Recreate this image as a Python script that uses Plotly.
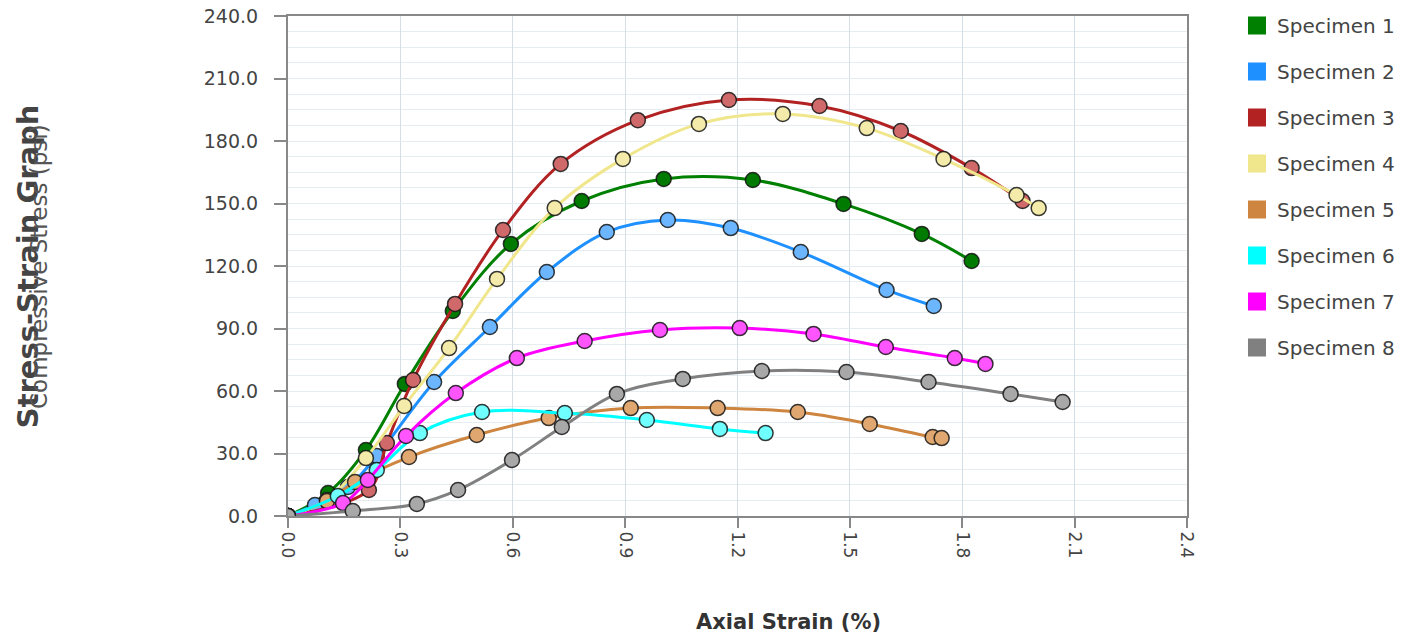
import plotly.graph_objects as go

names = ["Specimen 1", "Specimen 2", "Specimen 3", "Specimen 4",
         "Specimen 5", "Specimen 6", "Specimen 7", "Specimen 8"]

s1_x = [0, 0.107, 0.208, 0.312, 0.44, 0.595, 0.784, 1.003, 1.241, 1.483, 1.692, 1.825]
s1_y = [0, 11.0, 31.7, 63.4, 98.4, 130.6, 151.2, 161.8, 161.3, 149.8, 135.4, 122.4]

s2_x = [0, 0.072, 0.16, 0.237, 0.39, 0.539, 0.691, 0.851, 1.014, 1.182, 1.369, 1.598, 1.724]
s2_y = [0, 5.3, 13.9, 28.8, 64.3, 90.7, 117.1, 136.3, 142.1, 138.2, 126.7, 108.5, 100.8]

s3_x = [0, 0.216, 0.264, 0.334, 0.446, 0.574, 0.728, 0.934, 1.177, 1.419, 1.636, 1.825, 1.961]
s3_y = [0, 12.5, 35.0, 65.3, 101.8, 137.3, 169.0, 190.0, 199.7, 196.8, 184.8, 167.0, 151.2]

s4_x = [0, 0.104, 0.208, 0.31, 0.43, 0.558, 0.712, 0.894, 1.097, 1.321, 1.545, 1.75, 1.945, 2.004]
s4_y = [0, 7.7, 27.8, 52.8, 80.6, 113.8, 147.8, 171.4, 188.2, 193.0, 186.2, 171.4, 154.1, 147.8]

s5_x = [0, 0.104, 0.179, 0.323, 0.504, 0.696, 0.915, 1.147, 1.361, 1.553, 1.721, 1.745]
s5_y = [0, 7.2, 16.3, 28.3, 38.9, 47.0, 51.8, 51.8, 49.9, 44.2, 37.9, 37.4]

s6_x = [0, 0.133, 0.237, 0.352, 0.518, 0.739, 0.958, 1.153, 1.275]
s6_y = [0, 9.6, 22.1, 39.8, 49.9, 49.4, 46.1, 41.8, 39.8]

s7_x = [0, 0.147, 0.213, 0.315, 0.448, 0.611, 0.792, 0.993, 1.206, 1.403, 1.596, 1.78, 1.862]
s7_y = [0, 6.2, 17.3, 38.4, 59.0, 75.8, 84.0, 89.3, 90.2, 87.4, 81.1, 75.8, 73.0]

s8_x = [0, 0.173, 0.344, 0.454, 0.598, 0.731, 0.878, 1.054, 1.265, 1.491, 1.71, 1.929, 2.068]
s8_y = [0, 2.4, 5.8, 12.5, 26.9, 42.7, 58.6, 65.8, 69.6, 69.1, 64.3, 58.6, 54.7]

xs = [s1_x, s2_x, s3_x, s4_x, s5_x, s6_x, s7_x, s8_x]
ys = [s1_y, s2_y, s3_y, s4_y, s5_y, s6_y, s7_y, s8_y]

line_colors = ["#008000", "#1e90ff", "#b22222", "#f0e68c",
               "#cd853f", "#00ffff", "#ff00ff", "#808080"]
marker_fills = ["#007a00", "#6cb6ff", "#d06a6a", "#f4ebaa",
                "#e0a870", "#70ffff", "#ff55ff", "#a8a8a8"]

x_ticks = [0.0, 0.3, 0.6, 0.9, 1.2, 1.5, 1.8, 2.1, 2.4]
y_ticks = [0, 30, 60, 90, 120, 150, 180, 210, 240]

FONT = "DejaVu Sans"

fig = go.Figure()

for i in range(len(names)):
    fig.add_trace(go.Scatter(
        x=xs[i], y=ys[i], mode="lines+markers", name=names[i],
        line=dict(color=line_colors[i], width=3, shape="spline", smoothing=1.0),
        marker=dict(size=15, color=marker_fills[i],
                    line=dict(color="rgba(20,20,20,0.85)", width=1.5)),
        legendgroup=names[i], showlegend=False, hoverinfo="x+y+name",
    ))

for i in range(len(names)):
    fig.add_trace(go.Scatter(
        x=[None], y=[None], mode="markers", name=names[i],
        marker=dict(symbol="square", size=16, color=line_colors[i],
                    line=dict(color=line_colors[i], width=2)),
        legendgroup=names[i], showlegend=True,
    ))

fig.update_layout(
    width=1427, height=639,
    margin=dict(l=288, r=240, t=16, b=123, autoexpand=False),
    paper_bgcolor="white", plot_bgcolor="white",
    font=dict(family=FONT, size=16, color="#444444"),
    legend=dict(x=1.0556, y=1.02, xanchor="left", yanchor="top",
                font=dict(family=FONT, size=20, color="#444444"),
                tracegroupgap=17, traceorder="grouped", maxheight=620,
                itemsizing="trace", bgcolor="rgba(0,0,0,0)"),
    showlegend=True,
)

fig.update_xaxes(
    range=[0, 2.4], tickvals=x_ticks, ticktext=[f"{v:.1f}" for v in x_ticks],
    tickangle=90, ticks="outside", ticklen=10, tickcolor="#888888", tickwidth=1.5,
    showline=True, linecolor="#888888", linewidth=2, mirror=True,
    showgrid=True, gridcolor="#d3dee6", gridwidth=1, zeroline=False,
    automargin=False, ticklabeloverflow="allow",
    tickfont=dict(family=FONT, size=17, color="#444444"),
)

fig.update_yaxes(
    range=[0, 240], tickvals=y_ticks, ticktext=[f"{v:.1f}" for v in y_ticks],
    ticks="outside", ticklen=12, tickcolor="#888888", tickwidth=1.5,
    showline=True, linecolor="#888888", linewidth=2, mirror=True,
    showgrid=True, gridcolor="#e6edf1", gridwidth=1, zeroline=False,
    automargin=False, ticklabelstandoff=12, ticklabeloverflow="allow",
    minor=dict(dtick=7.5, tick0=0, showgrid=True, gridcolor="#e6edf1", gridwidth=1),
    tickfont=dict(family=FONT, size=19, color="#444444"),
)

fig.add_annotation(
    text="<b>Axial Strain (%)</b>",
    xref="paper", yref="paper", x=0.557, y=-0.212, xanchor="center", yanchor="middle",
    showarrow=False, font=dict(family=FONT, size=21, color="#333333"),
)
fig.add_annotation(
    text="<b>Stress-Strain Graph</b>", textangle=-90,
    xref="paper", yref="paper", x=-0.289, y=0.5, xanchor="center", yanchor="middle",
    showarrow=False, font=dict(family=FONT, size=29, color="#444444"),
)
fig.add_annotation(
    text="Compressive Stress (psi)", textangle=-90,
    xref="paper", yref="paper", x=-0.277, y=0.5, xanchor="center", yanchor="middle",
    showarrow=False, font=dict(family=FONT, size=23, color="#555555"),
)

fig.write_html("out.html", config={"displayModeBar": False},
               post_script="document.body.style.margin='0';")
